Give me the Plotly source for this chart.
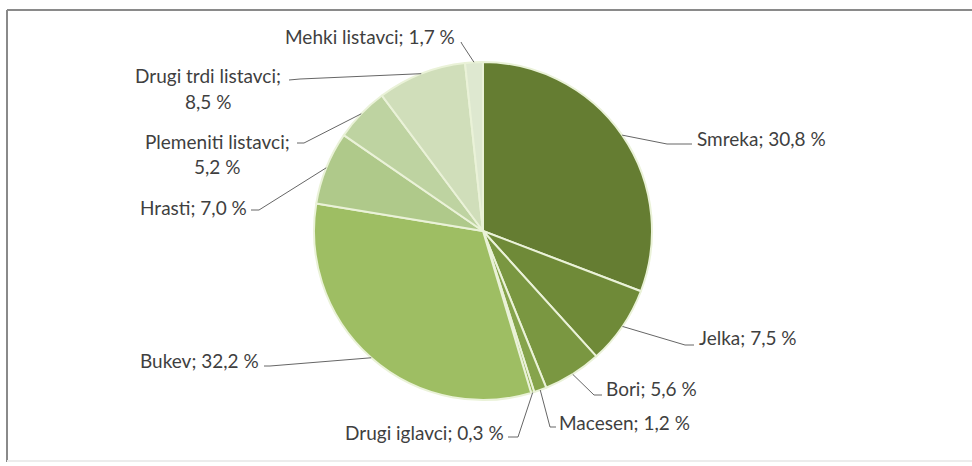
"""
    Pie chart of growing stock by tree species
"""

import math

import plotly.graph_objs as go

# Data
species = [
    "Smreka",
    "Jelka",
    "Bori",
    "Macesen",
    "Drugi iglavci",
    "Bukev",
    "Hrasti",
    "Plemeniti listavci",
    "Drugi trdi listavci",
    "Mehki listavci",
]
shares = [30.8, 7.5, 5.6, 1.2, 0.3, 32.2, 7.0, 5.2, 8.5, 1.7]

# Styles
colors = [
    "#657d32",
    "#6f8a38",
    "#7a9741",
    "#86a44c",
    "#92b056",
    "#9ebe63",
    "#afc98a",
    "#bed3a1",
    "#d0deba",
    "#dee8d0",
]

W, H = 972, 466
CX, CY, R = 483, 231, 169

# label layout in pixels: (text x per line, first line y, xanchor, elbow, line end)
label_pos = {
    "Smreka": ([695], 139, "left", (667, 144), (692, 144)),
    "Jelka": ([697], 337, "left", (685, 345), (694, 345)),
    "Bori": ([604], 388, "left", (594, 395), (602, 395)),
    "Macesen": ([557], 422, "left", (550, 427), (556, 427)),
    "Drugi iglavci": ([506], 432, "right", (518, 437), (508, 437)),
    "Bukev": ([261], 360, "right", (270, 366), (264, 366)),
    "Hrasti": ([249], 207, "right", (259, 210), (251, 210)),
    "Plemeniti listavci": ([217, 217], 141, "center", (304, 143), (297, 143)),
    "Drugi trdi listavci": ([208, 208], 76, "center", (300, 79), (289, 80)),
    "Mehki listavci": ([370], 36, "center", (462, 44), (461, 42)),
}

FONT = "Lato"
FONT_SIZE = 19
TEXT_COLOR = "#3f3f3f"
LINE_COLOR = "#666666"


def px(x):
    return x / W


def py(y):
    return 1 - y / H


def fmt(v):
    return f"{v:.1f}".replace(".", ",") + " %"


fig = go.Figure(
    go.Pie(
        labels=species,
        values=shares,
        sort=False,
        direction="clockwise",
        rotation=0,
        textinfo="none",
        hoverinfo="label+percent",
        marker={"colors": colors, "line": {"color": "#eaf2d8", "width": 2}},
        domain={"x": [px(CX - R), px(CX + R)], "y": [py(CY + R), py(CY - R)]},
        showlegend=False,
    )
)

annotations = []
shapes = []
cum = 0.0
total = sum(shares)
for name, val in zip(species, shares):
    mid = (cum + val / 2) / total * 2 * math.pi
    cum += val
    ex, ey = CX + R * math.sin(mid), CY - R * math.cos(mid)
    xs, y0, anchor, elbow, end = label_pos[name]

    if len(xs) == 1:
        lines = [f"{name}; {fmt(val)}"]
    else:
        lines = [f"{name};", fmt(val)]
    for i, (tx, txt) in enumerate(zip(xs, lines)):
        annotations.append(
            dict(
                x=px(tx),
                y=py(y0 + i * 25),
                xref="paper",
                yref="paper",
                text=txt,
                showarrow=False,
                xanchor=anchor,
                yanchor="middle",
                font={"family": FONT, "size": FONT_SIZE, "color": TEXT_COLOR},
            )
        )

    path = f"M {px(ex)},{py(ey)} L {px(elbow[0])},{py(elbow[1])} L {px(end[0])},{py(end[1])}"
    shapes.append(
        dict(
            type="path",
            xref="paper",
            yref="paper",
            path=path,
            line={"color": LINE_COLOR, "width": 1},
        )
    )

# chart frame
shapes += [
    dict(type="line", xref="paper", yref="paper", x0=px(7), x1=1.01, y0=py(10), y1=py(10),
         line={"color": "#8a8a8a", "width": 2}),
    dict(type="line", xref="paper", yref="paper", x0=px(7), x1=px(7), y0=py(10), y1=py(462),
         line={"color": "#8a8a8a", "width": 2}),
    dict(type="line", xref="paper", yref="paper", x0=px(7), x1=1.01, y0=py(461), y1=py(461),
         line={"color": "#ececec", "width": 2}),
]

fig.update_layout(
    width=W,
    height=H,
    margin={"l": 0, "r": 0, "t": 0, "b": 0},
    paper_bgcolor="white",
    plot_bgcolor="white",
    annotations=annotations,
    shapes=shapes,
)

fig.write_html(
    "out.html",
    config={"displayModeBar": False},
    post_script="document.body.style.margin='0';document.body.style.overflow='hidden';",
)
